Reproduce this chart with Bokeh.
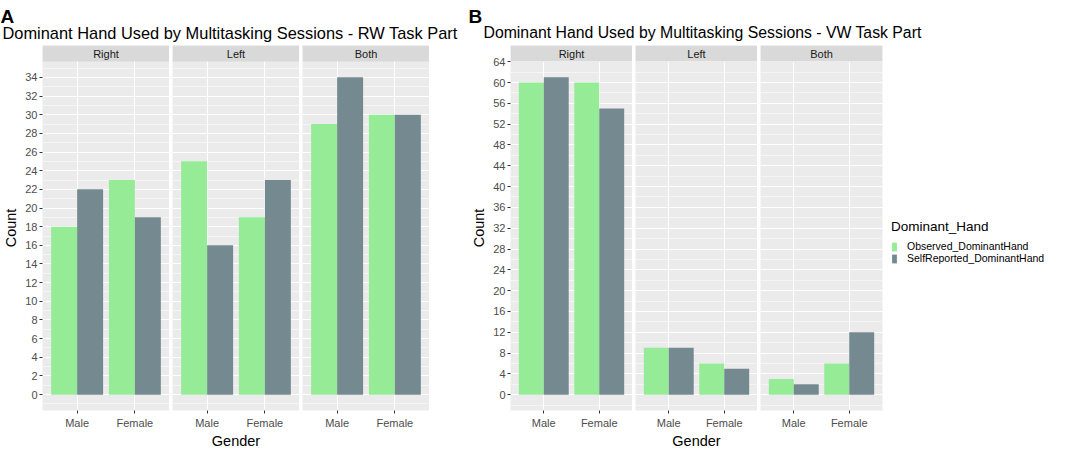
from bokeh.plotting import figure
from bokeh.models import (ColumnDataSource, FactorRange, Range1d, FixedTicker,
                          BoxAnnotation, Label, Legend, LegendItem)
from bokeh.layouts import row, column
from bokeh.transform import dodge
from bokeh.embed import file_html
from bokeh.resources import INLINE

# ---------------- data ----------------
genders = ["Male", "Female"]
hand_facets = ["Right", "Left", "Both"]
series_names = ["Observed_DominantHand", "SelfReported_DominantHand"]

rw_observed = {"Right": [18, 23], "Left": [25, 19], "Both": [29, 30]}
rw_selfreported = {"Right": [22, 19], "Left": [16, 23], "Both": [34, 30]}
vw_observed = {"Right": [60, 60], "Left": [9, 6], "Both": [3, 6]}
vw_selfreported = {"Right": [61, 55], "Left": [9, 5], "Both": [2, 12]}

rw_ticks = list(range(0, 35, 2))
vw_ticks = list(range(0, 65, 4))

title_rw = "Dominant Hand Used by Multitasking Sessions - RW Task Part"
title_vw = "Dominant Hand Used by Multitasking Sessions - VW Task Part"
legend_title = "Dominant_Hand"
x_label = "Gender"
y_label = "Count"

# ---------------- style ----------------
FONT = "Liberation Sans"
OBS_COLOR = "#96EB96"
SELF_COLOR = "#748A90"
PANEL_BG = "#EBEBEB"
STRIP_BG = "#D9D9D9"
HEADER_H = 45
STRIP_H = 16
PANEL_H = 349
BOTTOM = 36


def make_facet(obs, srep, strip_label, ticks, ymax, frame_w, first, xlabel, left_border,
               legend=False):
    ylo = -0.05 * ymax
    ytop = 1.05 * ymax
    per_px = (ytop - ylo) / PANEL_H
    yhi = ytop + STRIP_H * per_px
    p = figure(x_range=FactorRange(*genders, range_padding=0.1, range_padding_units="absolute"),
               y_range=Range1d(ylo, yhi), title=None,
               frame_width=frame_w, frame_height=PANEL_H + STRIP_H,
               output_backend="svg", toolbar_location=None,
               y_axis_location="left" if first else None,
               min_border_left=left_border, min_border_right=0, min_border_top=0,
               min_border_bottom=BOTTOM,
               background_fill_color=PANEL_BG, border_fill_color="white",
               outline_line_color=None)
    step = ticks[1] - ticks[0]
    minor = [ticks[0] - step / 2] + [t + step / 2 for t in ticks]
    p.ygrid.ticker = FixedTicker(ticks=ticks, minor_ticks=minor)
    p.ygrid.grid_line_color = "white"
    p.ygrid.grid_line_width = 1.1
    p.ygrid.minor_grid_line_color = "white"
    p.ygrid.minor_grid_line_width = 0.5
    p.xgrid.grid_line_color = "white"
    p.xgrid.grid_line_width = 1.1

    src = ColumnDataSource(dict(gender=genders, observed=obs, selfreported=srep))
    r1 = p.vbar(x=dodge("gender", -0.225, range=p.x_range), top="observed", width=0.45,
                source=src, fill_color=OBS_COLOR, line_color=None)
    r2 = p.vbar(x=dodge("gender", 0.225, range=p.x_range), top="selfreported", width=0.45,
                source=src, fill_color=SELF_COLOR, line_color=None)

    p.add_layout(BoxAnnotation(bottom=ytop, fill_color=STRIP_BG, fill_alpha=1.0,
                               line_color=None))
    p.add_layout(Label(x=1.0, y=(ytop + yhi) / 2, text=strip_label, text_align="center",
                       text_baseline="middle", text_font=FONT, text_font_size="11px",
                       text_color="#1A1A1A"))

    xa = p.xaxis[0]
    xa.axis_line_color = None
    xa.major_tick_line_color = "#333333"
    xa.major_tick_out = 3
    xa.major_tick_in = 0
    xa.major_label_standoff = 3
    xa.major_label_text_font = FONT
    xa.major_label_text_font_size = "11px"
    xa.major_label_text_color = "#4D4D4D"
    if xlabel:
        xa.axis_label = xlabel
        xa.axis_label_text_font = FONT
        xa.axis_label_text_font_size = "14.5px"
        xa.axis_label_text_font_style = "normal"
        xa.axis_label_text_color = "black"
        xa.axis_label_standoff = 1

    if first:
        ya = p.yaxis[0]
        ya.ticker = FixedTicker(ticks=ticks)
        ya.axis_line_color = None
        ya.major_tick_line_color = "#333333"
        ya.major_tick_out = 3
        ya.major_tick_in = 0
        ya.minor_tick_line_color = None
        ya.major_label_standoff = 2
        ya.major_label_text_font = FONT
        ya.major_label_text_font_size = "11px"
        ya.major_label_text_color = "#4D4D4D"
        ya.axis_label = y_label
        ya.axis_label_text_font = FONT
        ya.axis_label_text_font_size = "14.5px"
        ya.axis_label_text_font_style = "normal"
        ya.axis_label_text_color = "black"
        ya.axis_label_standoff = 3

    if legend:
        lg = Legend(items=[LegendItem(label=series_names[0], renderers=[r1]),
                           LegendItem(label=series_names[1], renderers=[r2])],
                    title=legend_title, location=(9, 146),
                    title_text_font=FONT, title_text_font_size="13.5px",
                    title_text_font_style="normal", title_text_color="black",
                    title_standoff=6,
                    label_text_font=FONT, label_text_font_size="10.5px",
                    label_text_color="black", label_standoff=10,
                    glyph_width=6, glyph_height=11, label_height=11,
                    spacing=0, padding=0, margin=9,
                    border_line_color=None, background_fill_alpha=0)
        p.add_layout(lg, "right")
    return p


def make_header(letter, title, width, title_x, title_size):
    h = figure(frame_width=width, frame_height=HEADER_H, x_range=Range1d(0, width),
               y_range=Range1d(0, HEADER_H), title=None,
               output_backend="svg", toolbar_location=None,
               min_border=0, outline_line_color=None,
               x_axis_location=None, y_axis_location=None)
    h.xgrid.visible = False
    h.ygrid.visible = False
    # texts are placed from the top edge of the header
    h.add_layout(Label(x=0, y=HEADER_H - 16, text=letter, text_font=FONT,
                       text_font_style="bold", text_font_size="19px", text_color="black",
                       text_baseline="alphabetic"))
    h.add_layout(Label(x=title_x, y=HEADER_H - 32, text=title, text_font=FONT,
                       text_font_size=title_size, text_color="black",
                       text_baseline="alphabetic"))
    return h


def make_half(letter, title, observed, selfrep, ticks, frame_w, header_w, left_border,
              title_x, title_size, with_legend):
    ymax = max(max(max(observed[hf]), max(selfrep[hf])) for hf in hand_facets)
    facets = []
    for i, hf in enumerate(hand_facets):
        facets.append(make_facet(observed[hf], selfrep[hf], hf, ticks, ymax, frame_w,
                                 first=(i == 0), xlabel=x_label if i == 1 else None,
                                 left_border=left_border if i == 0 else 0,
                                 legend=with_legend and i == 2))
    header = make_header(letter, title, header_w, title_x, title_size)
    return column(header, row(*facets, spacing=3), spacing=0)


half_a = make_half("A", title_rw, rw_observed, rw_selfreported, rw_ticks,
                   frame_w=127, header_w=466, left_border=36, title_x=2,
                   title_size="16.4px", with_legend=False)
half_b = make_half("B", title_vw, vw_observed, vw_selfreported, vw_ticks,
                   frame_w=122, header_w=560, left_border=40, title_x=15,
                   title_size="15.8px", with_legend=True)

layout = row(half_a, half_b, spacing=2)

open("out.html", "w").write(file_html(layout, INLINE, title="Dominant hand"))
